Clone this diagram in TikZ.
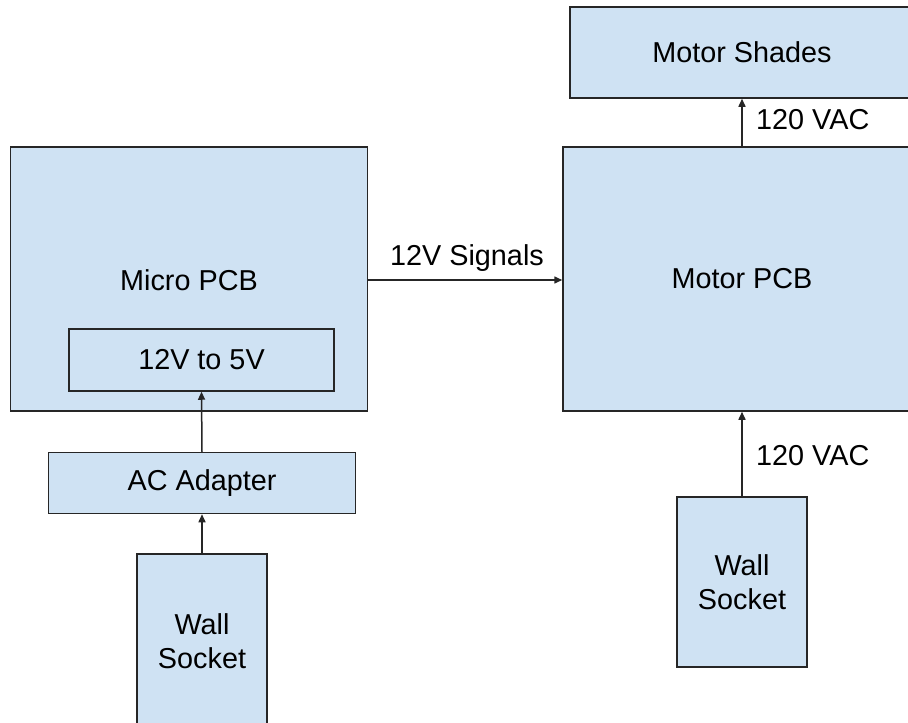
\documentclass[tikz,border=0pt]{standalone}
\usepackage{fontspec}
\setmainfont{Liberation Sans}
\usetikzlibrary{arrows.meta}
\definecolor{boxfill}{HTML}{CFE2F3}
\begin{document}
\begin{tikzpicture}[x=1pt,y=-1pt,
  blk/.style={draw=black!85,line width=1.5pt,fill=boxfill,rectangle,inner sep=0pt,
    font=\fontsize{28.8}{34.5}\selectfont,align=center},
  conn/.style={line width=1.5pt,draw=black!85,-{Triangle[length=8pt,width=7pt]}},
  lbl/.style={font=\fontsize{28.8}{34.5}\selectfont,inner sep=0pt}]
\useasboundingbox (0,0) rectangle (908,723);
\clip (0,0) rectangle (908,723);
\fill[white] (0,0) rectangle (908,723);
% boxes
\node[blk,minimum width=357pt,minimum height=264pt] (micro) at (189,279) {};
\node[lbl] at (189,280) {Micro PCB};
\node[blk,minimum width=265pt,minimum height=62pt] (conv) at (201.5,360) {12V to 5V};
\node[blk,minimum width=307pt,minimum height=61pt] (acad) at (202,483) {AC Adapter};
\node[blk,minimum width=130pt,minimum height=174pt] (wsl) at (202,641) {Wall\\Socket};
\node[blk,minimum width=358pt,minimum height=264pt] (motor) at (742,279) {Motor PCB};
\node[blk,minimum width=344pt,minimum height=91pt] (shades) at (742,52.5) {Motor Shades};
\node[blk,minimum width=130pt,minimum height=170pt] (wsr) at (742,582) {Wall\\Socket};
% connectors
\draw[conn] (micro.east |- 0,280) -- (motor.west |- 0,280);
\draw[conn] (motor.north) -- (shades.south);
\draw[conn] (wsr.north) -- (motor.south);
\draw[conn] (acad.north) -- (conv.south);
\draw[conn] (wsl.north) -- (acad.south);
% labels
\node[lbl] (l1) at (467,258) {12V Signals};
\node[lbl,anchor=west] (l2) at (756,120) {120 VAC};
\node[lbl,anchor=west] (l3) at (756,456) {120 VAC};
\end{tikzpicture}
\end{document}
